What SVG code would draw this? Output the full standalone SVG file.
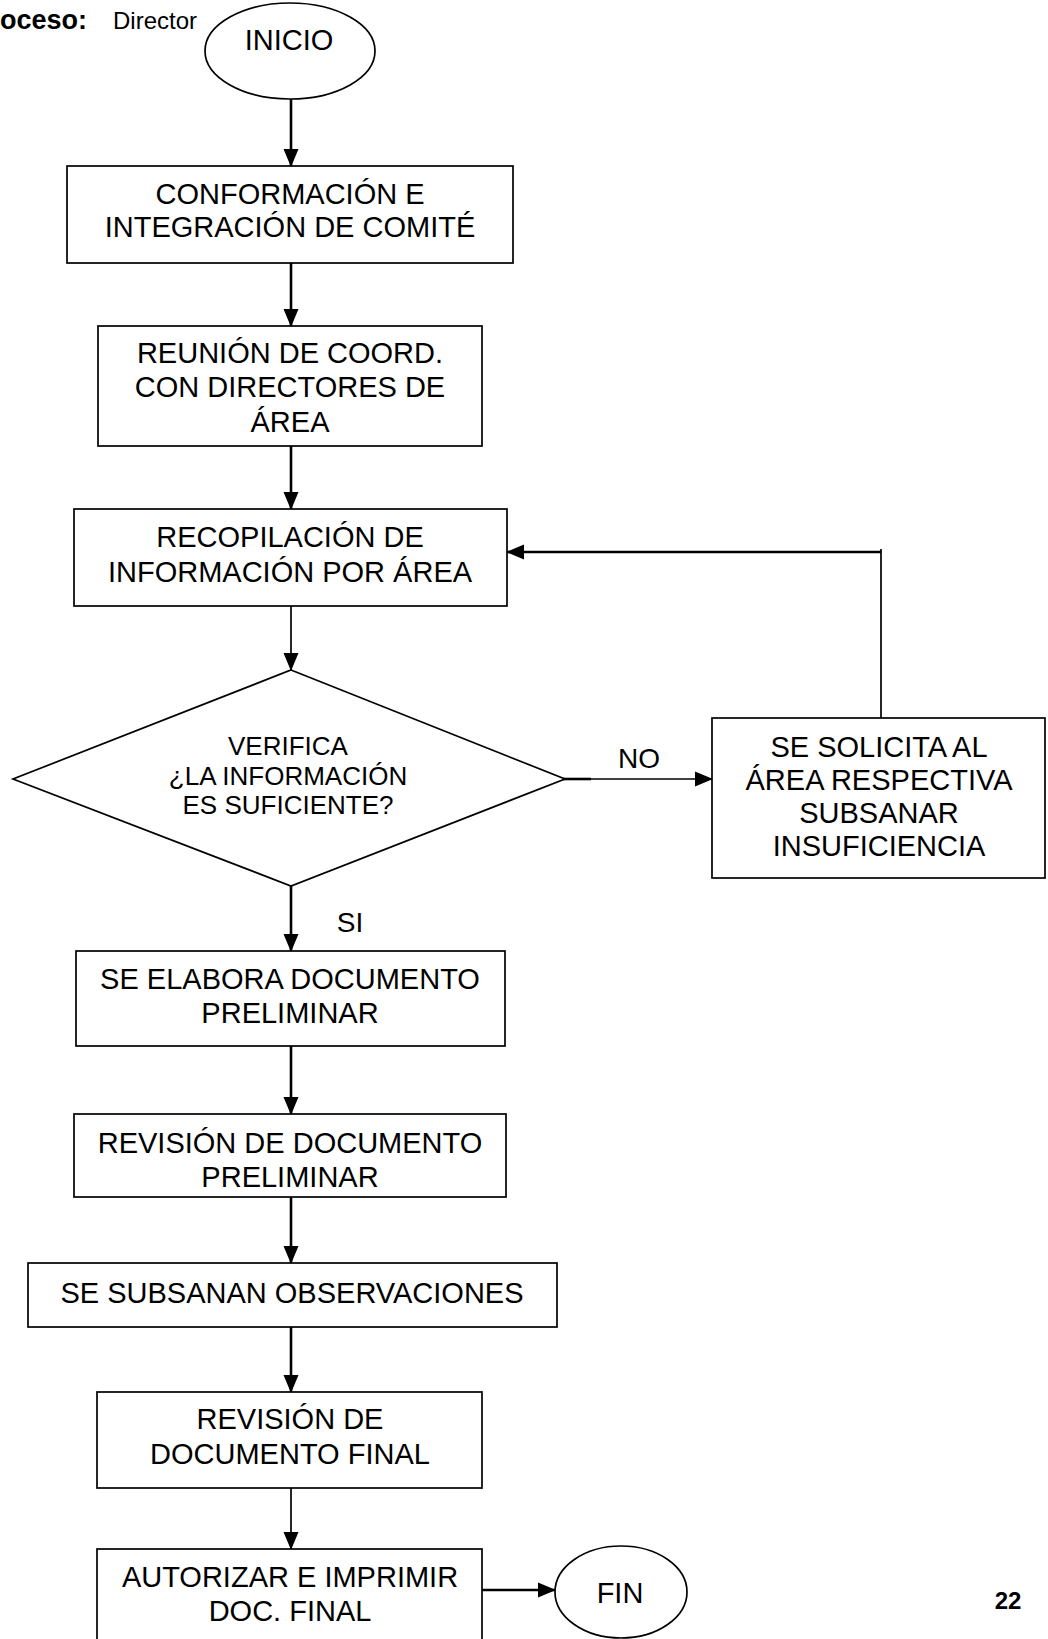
<svg xmlns="http://www.w3.org/2000/svg" width="1048" height="1639" viewBox="0 0 1048 1639">
<style>
.shape{fill:#fff;stroke:#000;stroke-width:1.7}
.t{font-family:"Liberation Sans",Arial,sans-serif;font-size:29px;fill:#000;text-anchor:middle}
.d{font-size:26px}
.lbl{font-family:"Liberation Sans",Arial,sans-serif;font-size:28px;fill:#000;text-anchor:middle}
.c{fill:none;stroke:#000;stroke-width:2.6}
.thin{stroke-width:1.7}
</style>
<defs>
<marker id="ah" markerUnits="userSpaceOnUse" markerWidth="18" markerHeight="18" viewBox="0 0 18 18" refX="17" refY="9" orient="auto">
<path d="M0,1.5 L18,9 L0,16.5 Z" fill="#000"/>
</marker>
</defs>
<rect width="1048" height="1639" fill="#fff"/>
<g id="header">
<text x="0" y="29" font-family="'Liberation Sans',Arial,sans-serif" font-size="24"><tspan font-size="27" font-weight="bold">oceso:</tspan> <tspan x="113">Director</tspan></text>
</g>
<g id="connectors">
<line class="c" x1="291" y1="99" x2="291" y2="166" marker-end="url(#ah)"/>
<line class="c" x1="291" y1="263" x2="291" y2="326" marker-end="url(#ah)"/>
<line class="c" x1="291" y1="446" x2="291" y2="509" marker-end="url(#ah)"/>
<line class="c thin" x1="291" y1="606" x2="291" y2="670" marker-end="url(#ah)"/>
<line class="c" x1="291" y1="886" x2="291" y2="951" marker-end="url(#ah)"/>
<line class="c" x1="291" y1="1046" x2="291" y2="1114" marker-end="url(#ah)"/>
<line class="c" x1="291" y1="1197" x2="291" y2="1263" marker-end="url(#ah)"/>
<line class="c" x1="291" y1="1327" x2="291" y2="1392" marker-end="url(#ah)"/>
<line class="c thin" x1="291" y1="1488" x2="291" y2="1549" marker-end="url(#ah)"/>
<line class="c" x1="482" y1="1590" x2="555" y2="1590" marker-end="url(#ah)"/>
<line class="c" x1="563" y1="779" x2="591" y2="779"/>
<line class="c thin" x1="565" y1="779" x2="712" y2="779" marker-end="url(#ah)"/>
<line class="c thin" x1="881" y1="718" x2="881" y2="549"/>
<line class="c" x1="881" y1="552" x2="507" y2="552" marker-end="url(#ah)"/>
<text class="lbl" x="639" y="768">NO</text>
<text class="lbl" x="350" y="932">SI</text>
</g>
<g id="inicio">
<ellipse class="shape" cx="290" cy="51" rx="85" ry="48"/>
<text class="t" x="289" y="50">INICIO</text>
</g>
<g id="conformacion">
<rect class="shape" x="67" y="166" width="446" height="97"/>
<text class="t" x="290" y="204">CONFORMACIÓN E</text>
<text class="t" x="290" y="237">INTEGRACIÓN DE COMITÉ</text>
</g>
<g id="reunion">
<rect class="shape" x="98" y="326" width="384" height="120"/>
<text class="t" x="290" y="363">REUNIÓN DE COORD.</text>
<text class="t" x="290" y="397">CON DIRECTORES DE</text>
<text class="t" x="290" y="432">ÁREA</text>
</g>
<g id="recopilacion">
<rect class="shape" x="74" y="509" width="433" height="97"/>
<text class="t" x="290" y="547">RECOPILACIÓN DE</text>
<text class="t" x="290" y="582">INFORMACIÓN POR ÁREA</text>
</g>
<g id="verifica">
<polygon class="shape" points="291,670 565,779 291,886 13,779"/>
<text class="t d" x="288" y="755">VERIFICA</text>
<text class="t d" x="288" y="785">¿LA INFORMACIÓN</text>
<text class="t d" x="288" y="814">ES SUFICIENTE?</text>
</g>
<g id="solicita">
<rect class="shape" x="712" y="718" width="333" height="160"/>
<text class="t" x="879" y="757">SE SOLICITA AL</text>
<text class="t" x="879" y="790">ÁREA RESPECTIVA</text>
<text class="t" x="879" y="823">SUBSANAR</text>
<text class="t" x="879" y="856">INSUFICIENCIA</text>
</g>
<g id="elabora">
<rect class="shape" x="76" y="951" width="429" height="95"/>
<text class="t" x="290" y="989">SE ELABORA DOCUMENTO</text>
<text class="t" x="290" y="1023">PRELIMINAR</text>
</g>
<g id="revision-preliminar">
<rect class="shape" x="74" y="1114" width="432" height="83"/>
<text class="t" x="290" y="1153">REVISIÓN DE DOCUMENTO</text>
<text class="t" x="290" y="1187">PRELIMINAR</text>
</g>
<g id="subsanan">
<rect class="shape" x="28" y="1263" width="529" height="64"/>
<text class="t" x="292" y="1303">SE SUBSANAN OBSERVACIONES</text>
</g>
<g id="revision-final">
<rect class="shape" x="97" y="1392" width="385" height="96"/>
<text class="t" x="290" y="1429">REVISIÓN DE</text>
<text class="t" x="290" y="1464">DOCUMENTO FINAL</text>
</g>
<g id="autorizar">
<rect class="shape" x="97" y="1549" width="385" height="100"/>
<text class="t" x="290" y="1587">AUTORIZAR E IMPRIMIR</text>
<text class="t" x="290" y="1621">DOC. FINAL</text>
</g>
<g id="fin">
<ellipse class="shape" cx="621" cy="1592" rx="66" ry="46"/>
<text class="t" x="620" y="1603">FIN</text>
</g>
<g id="page">
<text x="1008" y="1609" font-family="'Liberation Sans',Arial,sans-serif" font-size="24" font-weight="bold" text-anchor="middle">22</text>
</g>
</svg>
